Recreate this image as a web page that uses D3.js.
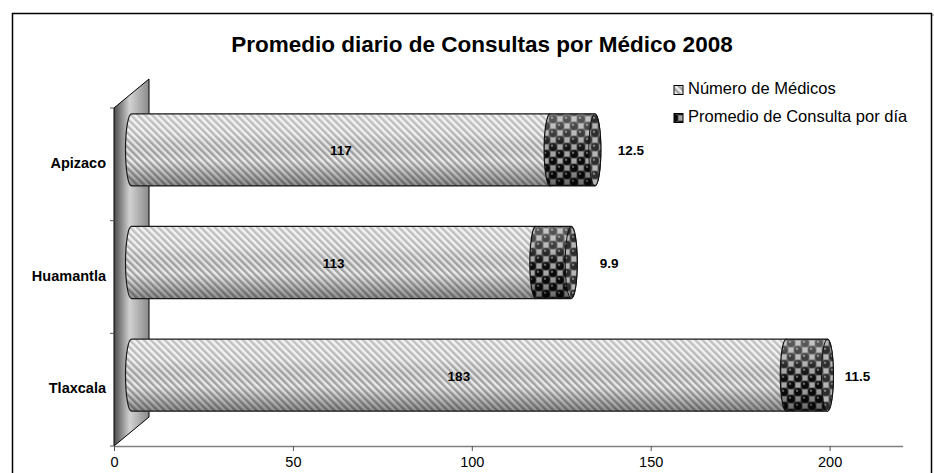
<!DOCTYPE html>
<html>
<head>
<meta charset="utf-8">
<script src="https://cdn.jsdelivr.net/npm/d3@7"></script>
<style>
  html, body { margin: 0; padding: 0; background: #fff; }
  svg { display: block; font-family: "Liberation Sans", Arial, sans-serif; }
</style>
</head>
<body>
<svg id="chart" width="934" height="473"></svg>
<script>
// Data
const categories = ["Apizaco", "Huamantla", "Tlaxcala"];
const medicos = [117, 113, 183];
const promedio = [12.5, 9.9, 11.5];
const xTicks = [0, 50, 100, 150, 200];
const seriesNames = ["Número de Médicos", "Promedio de Consulta por día"];
const title = "Promedio diario de Consultas por Médico 2008";

const svg = d3.select("#chart");
const defs = svg.append("defs");

// Plot geometry
const x0 = 114, xMax = 220, pxPerUnit = 3.578;
const yTop = 108, yBottom = 446;
const depthX = 35, depthY = -29;       // 3D depth of the wall / floor
const barDX = depthX / 2, barDY = depthY / 2;
const capRx = 6;
const labelGap = [36, 38, 30];         // distance of the outer value labels from the bar end

const x = d3.scaleLinear().domain([0, xMax]).range([x0, x0 + xMax * pxPerUnit]);
const y = d3.scaleBand().domain(categories).range([yTop, yBottom])
  .paddingInner(0.36).paddingOuter(0.18);

// ---- patterns & gradients ----
const stripe = defs.append("pattern").attr("id", "stripes")
  .attr("patternUnits", "userSpaceOnUse").attr("width", 5).attr("height", 5)
  .attr("patternTransform", "rotate(-45)");
stripe.append("rect").attr("width", 5).attr("height", 5).attr("fill", "#eeeeee");
stripe.append("rect").attr("width", 2.5).attr("height", 5).attr("fill", "#a4a4a4");

const dots = defs.append("pattern").attr("id", "spheres")
  .attr("patternUnits", "userSpaceOnUse").attr("width", 14).attr("height", 14);
dots.append("rect").attr("width", 14).attr("height", 14).attr("fill", "#3a3a3a");
[[7, 0], [0, 7], [14, 7], [7, 14]].forEach(([cx, cy]) => {
  dots.append("rect").attr("x", cx - 2.6).attr("y", cy - 2.6).attr("width", 5.2).attr("height", 5.2).attr("fill", "#a8a8a8");
});
[[0, 0], [14, 0], [0, 14], [14, 14], [7, 7]].forEach(([cx, cy]) => {
  dots.append("circle").attr("cx", cx).attr("cy", cy).attr("r", 3.7).attr("fill", "#0a0a0a");
  dots.append("circle").attr("cx", cx - 1).attr("cy", cy - 1.3).attr("r", 1.2).attr("fill", "#6a6a6a");
});

const shade = defs.append("linearGradient").attr("id", "shade")
  .attr("x1", 0).attr("y1", 0).attr("x2", 0).attr("y2", 1);
[[0, "#fff", 0.35], [0.3, "#fff", 0.2], [0.65, "#000", 0.0], [1, "#000", 0.4]].forEach(([o, c, a]) =>
  shade.append("stop").attr("offset", o).attr("stop-color", c).attr("stop-opacity", a));

const wallGrad = defs.append("linearGradient").attr("id", "wallGrad")
  .attr("x1", 0).attr("y1", 0).attr("x2", 1).attr("y2", 0);
[[0, "#4a4a4a"], [0.45, "#d2d2d2"], [1, "#8a8a8a"]].forEach(([o, c]) =>
  wallGrad.append("stop").attr("offset", o).attr("stop-color", c));

// ---- frame ----
svg.append("rect").attr("x", 14).attr("y", 15).attr("width", 922).attr("height", 470)
  .attr("fill", "none").attr("stroke", "#b0b0b0").attr("stroke-width", 1.5);
svg.append("rect").attr("x", 12.5).attr("y", 13.5).attr("width", 919).attr("height", 470)
  .attr("fill", "#fff").attr("stroke", "#000").attr("stroke-width", 1.5);

// ---- title ----
svg.append("text").attr("x", 482).attr("y", 46).attr("text-anchor", "middle")
  .attr("dominant-baseline", "middle").attr("font-weight", "bold").attr("font-size", 22.5)
  .attr("fill", "#000").text(title);

// ---- side wall ----
svg.append("path")
  .attr("d", `M${x0},${yTop} L${x0 + depthX},${yTop + depthY} L${x0 + depthX},${yBottom + depthY} L${x0},${yBottom} Z`)
  .attr("fill", "url(#wallGrad)").attr("stroke", "#000").attr("stroke-width", 1);

// ---- category axis ticks & labels ----
const bounds = [yTop].concat(categories.map(c => y(c) + y.bandwidth() + (y.step() - y.bandwidth()) / 2));
svg.append("g").selectAll("line").data(bounds).join("line")
  .attr("x1", x0 - 4).attr("x2", x0).attr("y1", d => d).attr("y2", d => d)
  .attr("stroke", "#555").attr("stroke-width", 1);

svg.append("g").selectAll("text").data(categories).join("text")
  .attr("x", 106).attr("y", d => y(d) + y.bandwidth() / 2)
  .attr("text-anchor", "end").attr("dominant-baseline", "middle")
  .attr("font-weight", "bold").attr("font-size", 14.5).text(d => d);

// ---- value axis ----
const xAxis = d3.axisBottom(x).tickValues(xTicks).tickSize(5).tickSizeOuter(0).tickPadding(6);
const gx = svg.append("g").attr("transform", `translate(0,${yBottom})`).call(xAxis);
gx.select(".domain").attr("stroke", "#808080").attr("stroke-width", 1.5)
  .attr("d", `M${x0},0.5H${x0 + xMax * pxPerUnit + 2}`);
gx.selectAll(".tick line").attr("stroke", "#555");
gx.selectAll(".tick text").attr("font-size", 14.5).attr("fill", "#000")
  .attr("font-family", "'Liberation Sans', Arial, sans-serif");

// ---- cylinders ----
function body(a, b, cy, r) {
  return `M${a},${cy - r} L${b},${cy - r} A${capRx},${r} 0 0 1 ${b},${cy + r} L${a},${cy + r} A${capRx},${r} 0 0 1 ${a},${cy - r} Z`;
}
const bars = svg.append("g");
categories.forEach((c, i) => {
  const cy = y(c) + y.bandwidth() / 2 + barDY;
  const r = y.bandwidth() / 2;
  const a = x(0) + barDX, m = x(medicos[i]) + barDX, e = x(medicos[i] + promedio[i]) + barDX;
  const g = bars.append("g");
  // first segment
  g.append("path").attr("d", body(a, m, cy, r)).attr("fill", "url(#stripes)");
  g.append("path").attr("d", body(a, m, cy, r)).attr("fill", "url(#shade)")
    .attr("stroke", "#1a1a1a").attr("stroke-width", 1.2);
  // second segment
  g.append("path").attr("d", body(m, e, cy, r)).attr("fill", "url(#spheres)");
  g.append("path").attr("d", body(m, e, cy, r)).attr("fill", "url(#shade)")
    .attr("stroke", "#111").attr("stroke-width", 1.2);
  // end cap
  g.append("ellipse").attr("cx", e).attr("cy", cy).attr("rx", capRx).attr("ry", r)
    .attr("fill", "url(#spheres)");
  g.append("ellipse").attr("cx", e).attr("cy", cy).attr("rx", capRx).attr("ry", r)
    .attr("fill", "#fff").attr("fill-opacity", 0.15).attr("stroke", "#111").attr("stroke-width", 1);
  // labels
  g.append("text").attr("x", (a + m) / 2).attr("y", cy + 2)
    .attr("text-anchor", "middle").attr("dominant-baseline", "middle")
    .attr("font-weight", "bold").attr("font-size", 13.5).text(medicos[i]);
  g.append("text").attr("x", e + labelGap[i]).attr("y", cy + 2)
    .attr("text-anchor", "middle").attr("dominant-baseline", "middle")
    .attr("font-weight", "bold").attr("font-size", 13.5).text(promedio[i]);
});

// ---- legend ----
const legendFills = ["url(#stripes)", "url(#spheres)"];
const leg = svg.append("g").selectAll("g").data(seriesNames).join("g")
  .attr("transform", (d, i) => `translate(674,${90 + i * 28})`);
leg.append("rect").attr("x", 0).attr("y", -4.5).attr("width", 9).attr("height", 9)
  .attr("fill", (d, i) => legendFills[i]).attr("stroke", "#000").attr("stroke-width", 1);
leg.append("text").attr("x", 14).attr("y", 0).attr("dominant-baseline", "middle")
  .attr("font-size", 16.5).text(d => d);
</script>
</body>
</html>
